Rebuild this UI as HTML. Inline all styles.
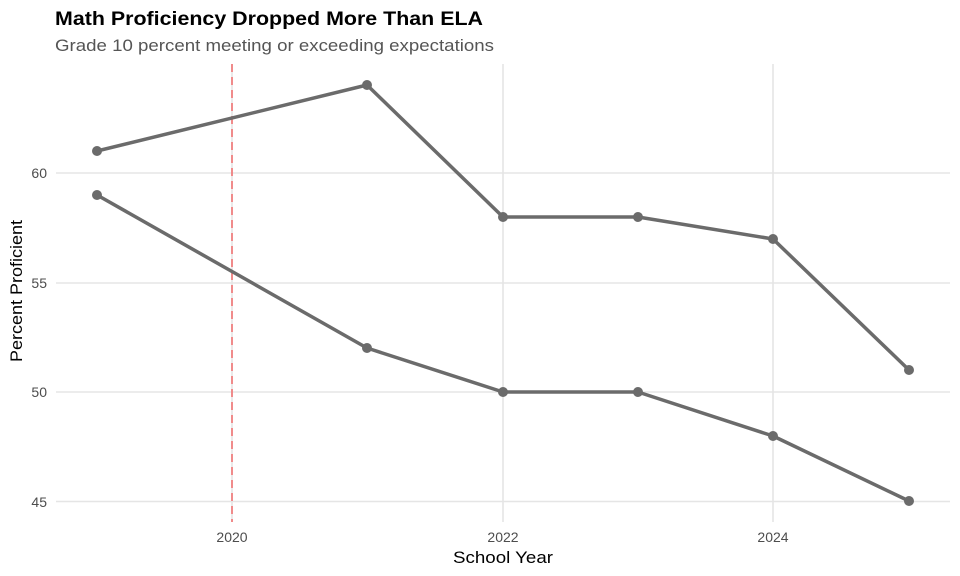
<!DOCTYPE html>
<html><head><meta charset="utf-8"><style>
html,body{margin:0;padding:0;background:#fff}
svg{display:block;font-family:"Liberation Sans",Arial,sans-serif}
</style></head><body>
<svg width="960" height="576" viewBox="0 0 960 576" xmlns="http://www.w3.org/2000/svg">
<rect width="960" height="576" fill="#fff"/>
<g stroke="#e5e5e5" stroke-width="1.6">
<line x1="56" x2="950" y1="501.5" y2="501.5"/><line x1="56" x2="950" y1="392" y2="392"/><line x1="56" x2="950" y1="283" y2="283"/><line x1="56" x2="950" y1="173" y2="173"/>
<line x1="232" x2="232" y1="64" y2="522"/><line x1="503" x2="503" y1="64" y2="522"/><line x1="773" x2="773" y1="64" y2="522"/>
</g>
<line x1="232" x2="232" y1="64" y2="522" stroke="#f08080" stroke-width="1.8" stroke-dasharray="8,5"/>
<g fill="none" stroke="#6b6b6b" stroke-width="3.5" stroke-linejoin="round">
<polyline points="97,151 367,85 503,217 638,217 773,239 909,370"/>
<polyline points="97,195 367,348 503,392 638,392 773,436 909,501"/>
</g>
<g fill="#6b6b6b">
<circle cx="97" cy="151" r="5"/><circle cx="367" cy="85" r="5"/><circle cx="503" cy="217" r="5"/><circle cx="638" cy="217" r="5"/><circle cx="773" cy="239" r="5"/><circle cx="909" cy="370" r="5"/>
<circle cx="97" cy="195" r="5"/><circle cx="367" cy="348" r="5"/><circle cx="503" cy="392" r="5"/><circle cx="638" cy="392" r="5"/><circle cx="773" cy="436" r="5"/><circle cx="909" cy="501" r="5"/>
</g>
<g font-size="14" fill="#4d4d4d" text-anchor="end">
<text x="47" y="178">60</text><text x="47" y="288">55</text><text x="47" y="397">50</text><text x="47" y="507">45</text>
</g>
<g font-size="14" fill="#4d4d4d" text-anchor="middle">
<text x="232" y="542">2020</text><text x="503" y="542">2022</text><text x="773" y="542">2024</text>
</g>
<text x="453" y="563" font-size="17" textLength="100" lengthAdjust="spacingAndGlyphs" fill="#000">School Year</text>
<text transform="translate(22,362) rotate(-90)" font-size="17" textLength="142" lengthAdjust="spacingAndGlyphs" fill="#000">Percent Proficient</text>
<text x="55" y="25" font-size="19" font-weight="bold" textLength="428" lengthAdjust="spacingAndGlyphs" fill="#000">Math Proficiency Dropped More Than ELA</text>
<text x="55" y="51" font-size="17" textLength="439" lengthAdjust="spacingAndGlyphs" fill="#555">Grade 10 percent meeting or exceeding expectations</text>
</svg>
</body></html>
